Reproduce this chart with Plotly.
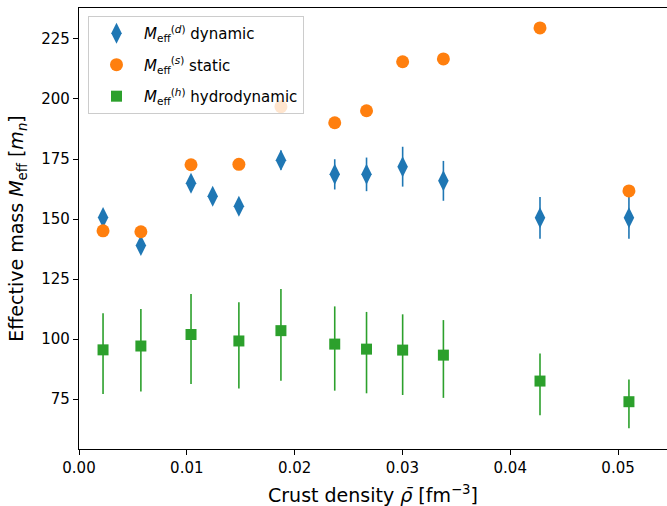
import plotly.graph_objects as go

# Data
rho_dyn = [0.00223, 0.00574, 0.01039, 0.0124, 0.01483, 0.01873, 0.02372, 0.02667, 0.03002, 0.0338, 0.04276, 0.05101]
m_dyn = [150.6, 139.0, 164.9, 159.5, 155.3, 174.5, 168.6, 168.6, 171.8, 165.9, 150.5, 150.5]
m_dyn_err = [2.0, 2.0, 2.0, 2.0, 2.0, 4.0, 6.3, 7.0, 8.3, 8.3, 8.7, 8.7]

rho_other = [0.00223, 0.00574, 0.01039, 0.01483, 0.01873, 0.02372, 0.02667, 0.03002, 0.0338, 0.04276, 0.05101]
m_static = [145.1, 144.7, 172.6, 172.8, 196.8, 190.1, 195.1, 215.5, 216.7, 229.6, 161.7]

m_hydro = [95.5, 97.1, 101.9, 99.2, 103.5, 97.9, 95.8, 95.4, 93.3, 82.5, 73.9]
m_hydro_hi = [110.7, 112.5, 118.8, 115.3, 120.8, 113.6, 111.3, 110.3, 107.9, 94.0, 83.2]
m_hydro_lo = [77.1, 78.1, 81.3, 79.4, 82.6, 78.5, 77.4, 76.7, 75.5, 68.3, 62.8]

hydro_plus = [h - c for h, c in zip(m_hydro_hi, m_hydro)]
hydro_minus = [c - l for c, l in zip(m_hydro, m_hydro_lo)]

blue, orange, green = "#1f77b4", "#ff7f0e", "#2ca02c"
font = "DejaVu Sans"

fig = go.Figure()
fig.add_trace(go.Scatter(
    x=rho_dyn, y=m_dyn, mode="markers", legendgroup="d",
    name="<i>M</i><sub>eff</sub><sup>(<i>d</i>)</sup> dynamic",
    marker=dict(symbol="diamond-tall", size=15, color=blue, line=dict(width=0)),
    error_y=dict(type="data", array=m_dyn_err, color=blue, thickness=1.6, width=0),
))
fig.add_trace(go.Scatter(
    x=rho_other, y=m_static, mode="markers", legendgroup="s",
    name="<i>M</i><sub>eff</sub><sup>(<i>s</i>)</sup> static",
    marker=dict(symbol="circle", size=13, color=orange, line=dict(width=0)),
))
fig.add_trace(go.Scatter(
    x=rho_other, y=m_hydro, mode="markers", legendgroup="h",
    name="<i>M</i><sub>eff</sub><sup>(<i>h</i>)</sup> hydrodynamic",
    marker=dict(symbol="square", size=11, color=green, line=dict(width=0)),
    error_y=dict(type="data", symmetric=False, array=hydro_plus, arrayminus=hydro_minus,
                 color=green, thickness=1.6, width=0),
))

fig.update_layout(
    width=667, height=506,
    margin=dict(l=79, r=0, t=8, b=57),
    paper_bgcolor="white", plot_bgcolor="white",
    font=dict(family=font, size=15, color="black"),
    showlegend=True,
    legend=dict(
        x=0.0153, y=0.982, xanchor="left", yanchor="top",
        bgcolor="rgba(255,255,255,0.8)", bordercolor="#cccccc", borderwidth=1,
        font=dict(family=font, size=15), itemsizing="trace", itemwidth=45,
        traceorder="grouped", tracegroupgap=9,
    ),
    xaxis=dict(
        range=[0, 0.05454], tickvals=[0, 0.01, 0.02, 0.03, 0.04, 0.05],
        ticktext=["0.00", "0.01", "0.02", "0.03", "0.04", "0.05"],
        showgrid=False, zeroline=False, showline=True, linecolor="black", linewidth=1.2,
        mirror=True, ticks="outside", ticklen=5, tickwidth=1.2, tickcolor="black",
        title=dict(text="Crust density <i>ρ̄</i> [fm<sup>−3</sup>]", font=dict(size=19), standoff=12),
    ),
    yaxis=dict(
        range=[54.2, 237.9], tickvals=[75, 100, 125, 150, 175, 200, 225],
        showgrid=False, zeroline=False, showline=True, linecolor="black", linewidth=1.2,
        mirror=False, ticks="outside", ticklen=5, tickwidth=1.2, tickcolor="black",
        title=dict(text="Effective mass <i>M</i><sub>eff</sub> [<i>m</i><sub><i>n</i></sub>]",
                   font=dict(size=19), standoff=12),
    ),
)

fig.write_html("out.html")
